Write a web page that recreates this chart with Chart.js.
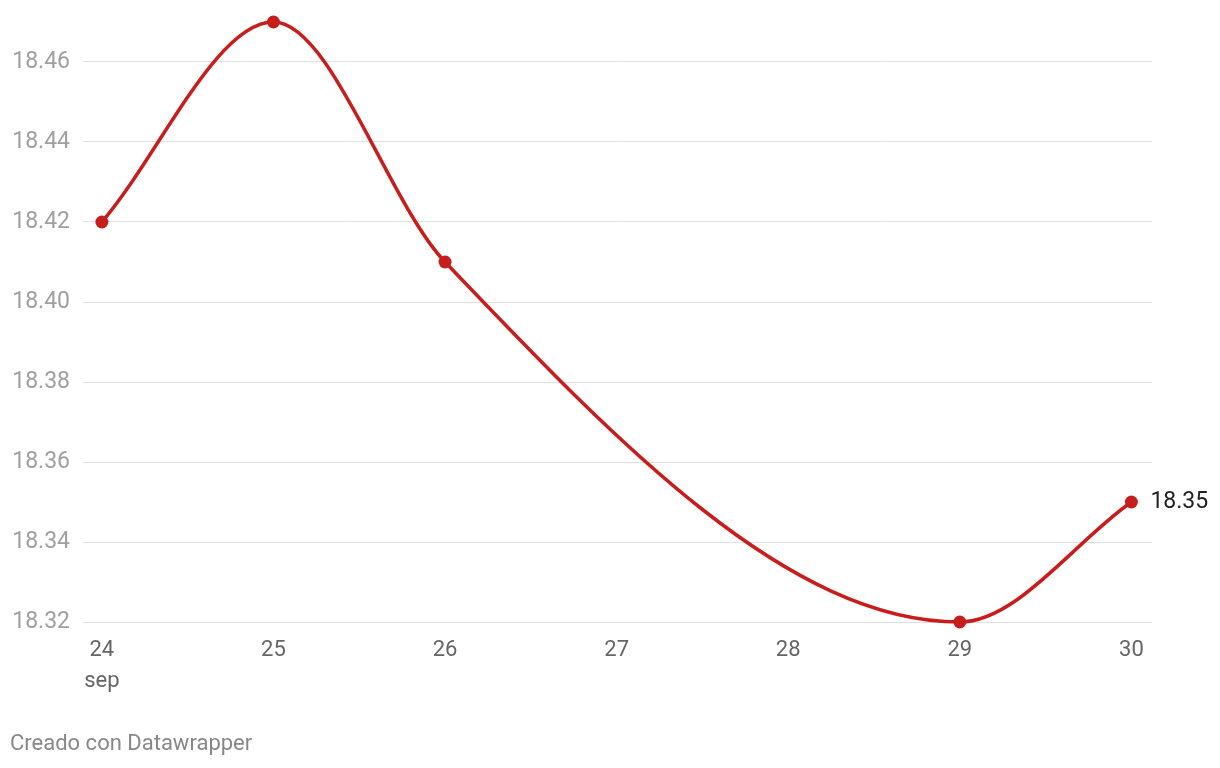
<!DOCTYPE html>
<html>
<head>
<meta charset="utf-8">
<script src="https://cdn.jsdelivr.net/npm/chart.js@4.4.0/dist/chart.umd.min.js"></script>
<style>
  html, body { margin: 0; padding: 0; background: #fff; }
  #wrap { position: relative; width: 1220px; height: 768px; }
  #credit { position: absolute; left: 10px; top: 730px; font-family: Roboto, sans-serif; font-size: 22px; color: #888; }
</style>
</head>
<body>
<div id="wrap">
  <canvas id="chart" width="1220" height="768"></canvas>
  <div id="credit">Creado con Datawrapper</div>
</div>
<script>
// Données (jours de septembre)
const days = [24, 25, 26, 29, 30];
const values = [18.42, 18.47, 18.41, 18.32, 18.35];
const xTicks = [24, 25, 26, 27, 28, 29, 30];
const yTicks = [18.32, 18.34, 18.36, 18.38, 18.40, 18.42, 18.44, 18.46];
const monthLabel = 'sep';
const lastLabel = '18.35';

const RED = '#c71e1d';

// Étiquette de la dernière valeur
const lastValuePlugin = {
  id: 'lastValue',
  afterDatasetsDraw(chart) {
    const ctx = chart.ctx;
    const x = chart.scales.x.getPixelForValue(days[days.length - 1]);
    const y = chart.scales.y.getPixelForValue(values[values.length - 1]);
    ctx.save();
    ctx.font = '23px Roboto';
    ctx.fillStyle = '#222';
    ctx.textBaseline = 'middle';
    ctx.fillText(lastLabel, x + 19, y);
    ctx.restore();
  }
};

new Chart(document.getElementById('chart'), {
  type: 'line',
  data: {
    datasets: [{
      data: days.map((d, i) => ({ x: d, y: values[i] })),
      borderColor: RED,
      backgroundColor: RED,
      borderWidth: 3.5,
      pointRadius: 6.5,
      pointBorderWidth: 0,
      pointBackgroundColor: RED,
      cubicInterpolationMode: 'monotone',
      fill: false,
      clip: false
    }]
  },
  options: {
    responsive: false,
    animation: false,
    layout: { padding: { top: 22, right: 68, left: 0, bottom: 0 } },
    plugins: { legend: { display: false }, tooltip: { enabled: false } },
    scales: {
      x: {
        type: 'linear',
        min: 23.89,
        max: 30.12,
        afterBuildTicks: (s) => { s.ticks = xTicks.map(v => ({ value: v })); },
        afterFit: (s) => { s.height = 146; s.paddingLeft = 0; s.paddingRight = 0; },
        grid: { display: false, drawTicks: false },
        border: { display: false },
        ticks: {
          padding: 13,
          color: '#666',
          font: { family: 'Roboto', size: 22, lineHeight: 1.4 },
          callback: (v) => v === 24 ? ['24', monthLabel] : String(v)
        }
      },
      y: {
        min: 18.32,
        max: 18.47,
        afterBuildTicks: (s) => { s.ticks = yTicks.map(v => ({ value: v })); },
        afterFit: (s) => { s.width = 83; s.paddingTop = 0; s.paddingBottom = 0; },
        grid: { color: '#e0e0e0', lineWidth: 1, drawTicks: false },
        border: { display: false },
        ticks: {
          padding: 13,
          color: '#a0a0a0',
          font: { family: 'Roboto', size: 23 },
          callback: (v) => v.toFixed(2)
        }
      }
    }
  },
  plugins: [lastValuePlugin]
});
</script>
</body>
</html>
